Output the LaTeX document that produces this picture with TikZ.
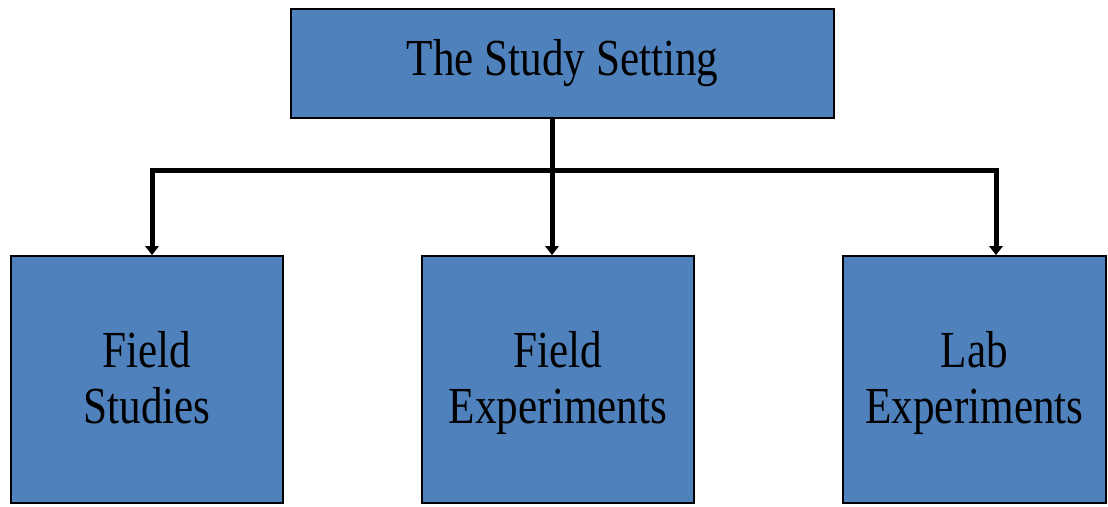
\documentclass[tikz,border=0pt]{standalone}
\usepackage{fontspec}
\setmainfont{Liberation Serif}[FakeStretch=0.83]
\usetikzlibrary{arrows.meta}
\definecolor{boxblue}{HTML}{4F81BD}
% taller strut for the first text line, so the two-line labels sit a bit lower
\newcommand\firststrut{\rule{0pt}{49pt}}
\tikzset{
  box/.style={draw=black, line width=1.6pt, fill=boxblue, inner sep=0pt,
    align=center, font=\fontsize{52}{56}\selectfont},
  conn/.style={line width=5pt, draw=black,
    -{Triangle[width=13pt,length=9pt]}},
  bar/.style={line width=5pt, draw=black}
}
\begin{document}
\begin{tikzpicture}[x=1pt,y=-1pt]
  \useasboundingbox (0,0) rectangle (1108,506);
  % top-level box
  \node[box, minimum width=543pt, minimum height=109pt] (top) at (562.5,63.5) {The Study Setting};
  % three setting types
  \node[box, minimum width=272pt, minimum height=247pt] (fs) at (147,379.5) {\firststrut Field\\Studies\strut};
  \node[box, minimum width=272pt, minimum height=247pt] (fe) at (558,379.5) {\firststrut Field\\Experiments\strut};
  \node[box, minimum width=263pt, minimum height=247pt] (le) at (974.5,379.5) {\firststrut Lab\\Experiments\strut};
  % branch points on the horizontal bar
  \coordinate (jl) at (152,170);
  \coordinate (jm) at (552,170);
  \coordinate (jr) at (996,170);
  % connectors
  \draw[bar] ([xshift=-2.5pt]jl) -- ([xshift=2.5pt]jr);
  \draw[conn] (jm |- top.south) -- (jm |- fe.north);
  \draw[conn] (jl) -- (jl |- fs.north);
  \draw[conn] (jr) -- (jr |- le.north);
\end{tikzpicture}
\end{document}
